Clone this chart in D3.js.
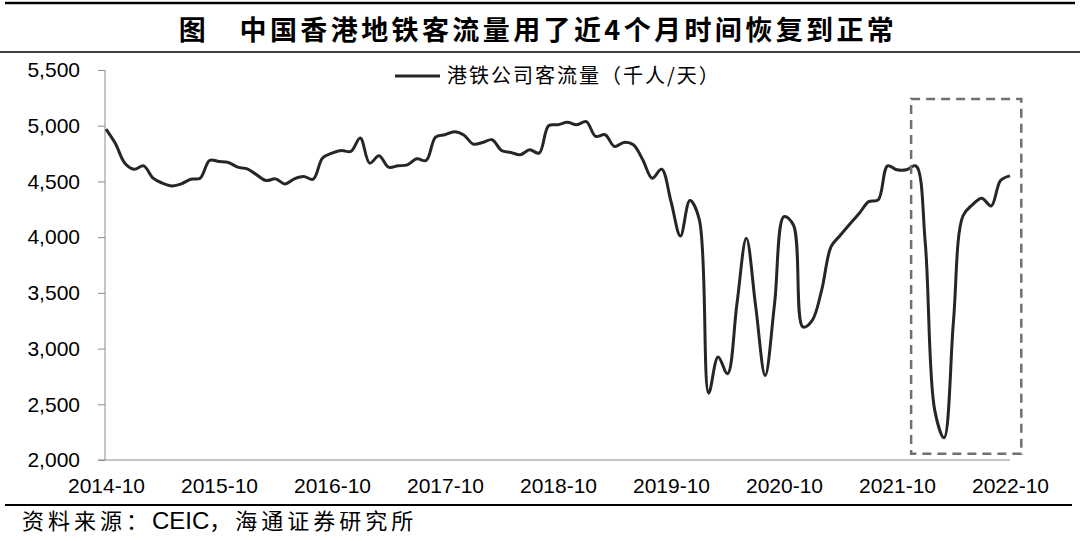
<!DOCTYPE html>
<html>
<head>
<meta charset="utf-8">
<script src="https://cdn.jsdelivr.net/npm/d3@7/dist/d3.min.js"></script>
<style>
  html, body { margin: 0; padding: 0; background: #fff; }
  svg { display: block; }
  .axis path, .axis line { stroke: #8c8c8c; }
  .axis text { font-family: "Liberation Sans", Arial, sans-serif; font-size: 21px; fill: #000; }
</style>
</head>
<body>
<div id="chart"></div>
<script>
const title = '图\u3000中国香港地铁客流量用了近4个月时间恢复到正常';
const seriesName = '港铁公司客流量（千人/天）';
const sourceParts = ['资料来源：', 'CEIC', '，海通证券研究所'];

// monthly, 2014-10 .. 2022-10
const startYear = 2014;
const startMonth = 10;
const passengers = [
  4970, 4840, 4664, 4610, 4640, 4529, 4484, 4460, 4478, 4520, 4529, 4688,
  4679, 4670, 4628, 4613, 4559, 4508, 4523, 4478, 4523, 4544, 4520, 4710,
  4754, 4778, 4769, 4889, 4664, 4730, 4628, 4640, 4649, 4703, 4688, 4898,
  4919, 4946, 4916, 4835, 4850, 4874, 4778, 4760, 4739, 4784, 4754, 5000,
  5009, 5030, 5009, 5036, 4904, 4919, 4814, 4850, 4829, 4694, 4529, 4610,
  4320, 4010, 4328, 4160, 2600, 2924, 2774, 3400, 3989, 3374, 2759, 3404,
  4184, 4109, 3194, 3254, 3524, 3914, 4019, 4118, 4214, 4319, 4334, 4640,
  4604, 4604, 4640, 3950, 2450, 2200, 3250, 4190, 4289, 4349, 4280, 4508,
  4550
];
const xTickLabels = ['2014-10', '2015-10', '2016-10', '2017-10', '2018-10', '2019-10', '2020-10', '2021-10', '2022-10'];
const yTicks = [2000, 2500, 3000, 3500, 4000, 4500, 5000, 5500];
// highlighted recovery window (month index range, value range)
const boxMonths = [85.5, 97.2];
const boxValues = [2055, 5240];

const months = passengers.map((_, i) => {
  const m = startMonth - 1 + i;
  const y = startYear + Math.floor(m / 12);
  return `${y}-${String(m % 12 + 1).padStart(2, '0')}`;
});

const width = 1080;
const height = 541;
const plot = { left: 105, right: 1010, top: 70, bottom: 460 };

const svg = d3.select('#chart')
  .append('svg')
  .attr('width', width)
  .attr('height', height)
  .attr('viewBox', `0 0 ${width} ${height}`);

const x = d3.scalePoint()
  .domain(months)
  .range([plot.left + 1, plot.right]);

const xi = d3.scaleLinear()
  .domain([0, months.length - 1])
  .range([plot.left + 1, plot.right]);

const y = d3.scaleLinear()
  .domain([2000, 5500])
  .range([plot.bottom, plot.top]);

// rules and title
svg.append('line')
  .attr('x1', 5).attr('x2', 1075).attr('y1', 3).attr('y2', 3)
  .attr('stroke', '#000').attr('stroke-width', 2.5);

svg.append('line')
  .attr('x1', 0).attr('x2', 1080).attr('y1', 52).attr('y2', 52)
  .attr('stroke', '#000').attr('stroke-width', 1.5);

svg.append('text')
  .attr('x', 538)
  .attr('y', 40)
  .attr('text-anchor', 'middle')
  .attr('font-family', '"Noto Sans CJK SC", sans-serif')
  .attr('font-weight', 700)
  .attr('font-size', 27)
  .attr('letter-spacing', 3.4)
  .text(title);

// axes
svg.append('g')
  .attr('class', 'axis')
  .attr('transform', `translate(${plot.left},0)`)
  .call(d3.axisLeft(y).tickValues(yTicks).tickSize(7).tickPadding(18).tickFormat(d3.format(',')))
  .call(g => g.select('.domain').attr('d', `M-7,${plot.bottom}H0V${plot.top}`));

svg.append('g')
  .attr('class', 'axis')
  .attr('transform', `translate(0,${plot.bottom})`)
  .call(d3.axisBottom(x).tickValues(xTickLabels).tickSize(0).tickPadding(18))
  .call(g => g.select('.domain').attr('d', `M${plot.left},0H${plot.right}`));

// series
const line = d3.line()
  .x((d, i) => x(months[i]))
  .y(d => y(d))
  .curve(d3.curveCatmullRom);

svg.append('path')
  .datum(passengers)
  .attr('fill', 'none')
  .attr('stroke', '#262626')
  .attr('stroke-width', 3)
  .attr('stroke-linejoin', 'round')
  .attr('d', line);

// highlight box
svg.append('rect')
  .attr('x', xi(boxMonths[0]))
  .attr('y', y(boxValues[1]))
  .attr('width', xi(boxMonths[1]) - xi(boxMonths[0]))
  .attr('height', y(boxValues[0]) - y(boxValues[1]))
  .attr('fill', 'none')
  .attr('stroke', '#707070')
  .attr('stroke-width', 2.5)
  .attr('stroke-dasharray', '9 6');

// legend
const legend = svg.append('g')
  .attr('transform', 'translate(395,76)');

legend.append('line')
  .attr('x1', 0).attr('x2', 45).attr('y1', 0).attr('y2', 0)
  .attr('stroke', '#262626').attr('stroke-width', 3);

legend.append('text')
  .attr('x', 52)
  .attr('y', 7)
  .attr('font-family', '"Noto Sans CJK SC", sans-serif')
  .attr('font-size', 20)
  .attr('letter-spacing', 2)
  .text(seriesName);

// footer
svg.append('line')
  .attr('x1', 5).attr('x2', 1072).attr('y1', 505).attr('y2', 505)
  .attr('stroke', '#000').attr('stroke-width', 2);

const sourceText = svg.append('text')
  .attr('x', 22)
  .attr('y', 529)
  .attr('font-family', '"Noto Sans CJK SC", sans-serif')
  .attr('font-size', 22)
  .attr('letter-spacing', 4);

sourceText.append('tspan').text(sourceParts[0]);
sourceText.append('tspan')
  .attr('font-family', '"Liberation Sans", Arial, sans-serif')
  .attr('font-size', 24)
  .attr('letter-spacing', 0)
  .text(sourceParts[1]);
sourceText.append('tspan').text(sourceParts[2]);
</script>
</body>
</html>
